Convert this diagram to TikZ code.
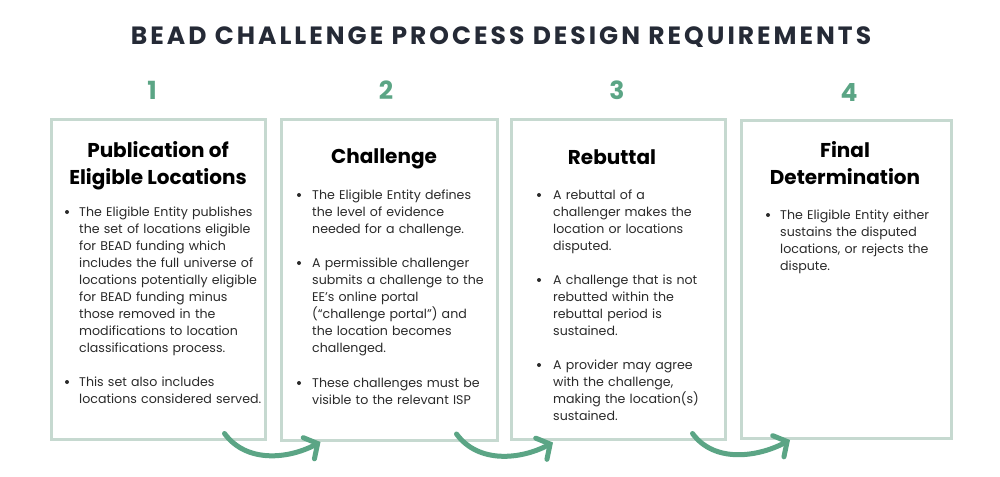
\documentclass[tikz,border=0pt]{standalone}
\usepackage{fontspec}
\setmainfont{Poppins}
\usetikzlibrary{arrows.meta,calc}
\definecolor{boxc}{HTML}{C6D9D0}
\definecolor{grn}{HTML}{5BA585}
\definecolor{navy}{HTML}{252A36}
\definecolor{txt}{HTML}{2A2A2A}
\begin{document}
\begin{tikzpicture}[x=1pt,y=-1pt,
  box/.style={draw=boxc,line width=3pt,inner sep=0pt},
  num/.style={text=grn,font=\fontsize{25}{28}\selectfont\bfseries,inner sep=0pt},
  head/.style={font=\fontsize{20}{27}\selectfont\bfseries,align=center,text=black,inner sep=0pt},
  body/.style={font=\fontsize{12.6}{17}\selectfont,align=left,anchor=base west,text width=200pt,inner sep=0pt,text=txt},
  dot/.style={circle,fill=txt,inner sep=0pt,minimum size=4pt},
  flow/.style={draw=grn,line width=5pt,line cap=round,-{Straight Barb[length=10pt,width=24pt,line cap=round]}}]
\useasboundingbox (0,0) rectangle (1000,476);

\node[font=\fontsize{25}{28}\selectfont\bfseries\addfontfeatures{LetterSpace=12},text=navy,inner sep=0pt] (title) at (501,37) {BEAD CHALLENGE PROCESS DESIGN REQUIREMENTS};

\node[num] (n1) at (152,90) {1};
\node[num] (n2) at (386,90) {2};
\node[num] (n3) at (617,90) {3};
\node[num] (n4) at (849,93) {4};

\node[box,minimum width=214pt,minimum height=320pt] (b1) at (158,279.5) {};
\node[box,minimum width=216pt,minimum height=320.5pt] (b2) at (389,279.75) {};
\node[box,minimum width=213.5pt,minimum height=320pt] (b3) at (618.25,279.5) {};
\node[box,minimum width=210pt,minimum height=318pt] (b4) at (846.5,279.5) {};

\node[head] (h1) at (158,166) {Publication of\\Eligible Locations};
\node[head] (h2) at (384,159) {Challenge};
\node[head] (h3) at (612,157) {Rebuttal};
\node[head] (h4) at (845,163.5) {Final\\Determination};

% box 1
\node[dot] (d11) at (67,212) {};
\node[body] (t11) at (79,216) {The Eligible Entity publishes\\the set of locations eligible\\for BEAD funding which\\includes the full universe of\\locations potentially eligible\\for BEAD funding minus\\those removed in the\\modifications to location\\classifications process.};
\node[dot] (d12) at (67,382) {};
\node[body] (t12) at (79,386) {This set also includes\\locations considered served.};

% box 2
\node[dot] (d21) at (299,195) {};
\node[body] (t21) at (312,199) {The Eligible Entity defines\\the level of evidence\\needed for a challenge.};
\node[dot] (d22) at (299,263) {};
\node[body] (t22) at (312,267) {A permissible challenger\\submits a challenge to the\\EE’s online portal\\(“challenge portal”) and\\the location becomes\\challenged.};
\node[dot] (d23) at (299,383) {};
\node[body] (t23) at (312,387) {These challenges must be\\visible to the relevant ISP};

% box 3
\node[dot] (d31) at (539,195) {};
\node[body] (t31) at (553,199) {A rebuttal of a\\challenger makes the\\location or locations\\disputed.};
\node[dot] (d32) at (539,280) {};
\node[body] (t32) at (553,284) {A challenge that is not\\rebutted within the\\rebuttal period is\\sustained.};
\node[dot] (d33) at (539,365) {};
\node[body] (t33) at (553,369) {A provider may agree\\with the challenge,\\making the location(s)\\sustained.};

% box 4
\node[dot] (d41) at (768,215) {};
\node[body] (t41) at (780,219) {The Eligible Entity either\\sustains the disputed\\locations, or rejects the\\dispute.};

% arrows
\draw[flow] ($(b1.south east)+(-42,-7.5)$) .. controls +(22,30) and +(-32,17) .. ($(b2.south west)+(41,0.5)$);
\draw[flow] ($(b2.south east)+(-42,-7.5)$) .. controls +(22,30) and +(-32,17) .. ($(b3.south west)+(43,1.5)$);
\draw[flow] ($(b3.south east)+(-34,-7.5)$) .. controls +(22,30) and +(-32,17) .. ($(b4.south west)+(50,0)$);
\end{tikzpicture}
\end{document}
